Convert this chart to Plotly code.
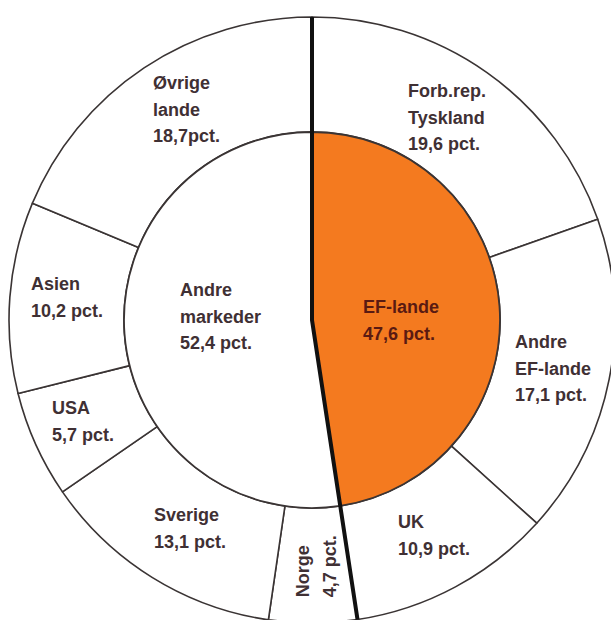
import math
import plotly.graph_objects as go

# ---- data ----
inner_labels = ["EF-lande", "Andre markeder"]
inner_values = [47.6, 52.4]
inner_names = ["EF-lande", "Andre<br>markeder"]

outer_labels = ["Forb.rep. Tyskland", "Andre EF-lande", "UK", "Norge",
                "Sverige", "USA", "Asien", "Øvrige lande"]
outer_values = [19.6, 17.1, 10.9, 4.7, 13.1, 5.7, 10.2, 18.7]
outer_names = ["Forb.rep.<br>Tyskland", "Andre<br>EF-lande", "UK", "Norge",
               "Sverige", "USA", "Asien", "Øvrige<br>lande"]

# ---- style / geometry ----
W, H = 620, 630             # slightly larger than the window; chart runs off the edge
CX, CY = 312, 320           # centre in pixels
R_OUT, R_IN = 303, 188
ORANGE = "#f47a1f"
LINE = "#3a3434"
TXT = "#3f3034"
TXT_EF = "#5a1a12"
FONT = "Liberation Sans, Arial, sans-serif"
outer_sep = [" ", " ", " ", " ", " ", " ", " ", ""]
outer_angle = [0, 0, 0, -90, 0, 0, 0, 0]
outer_nudge = [(-7, -2), (0, 0), (6, -1), (4, 1), (8, 0), (-5, 0), (0, -4), (11, -6)]
inner_nudge = [(-5, 8), (2, -11)]
inner_colors = [TXT_EF, TXT]


def fmt(v, sep=" "):
    return f"{v:.1f}".replace(".", ",") + sep + "pct."


def paper(px, py):
    return px / W, (H - py) / H


def label_html(text):
    lines = text.split("<br>")
    return "<br>".join(f'<span style="font-size:18px">{l}</span>' for l in lines)


fig = go.Figure()

fig.add_trace(go.Pie(
    labels=outer_labels, values=outer_values, sort=False, direction="clockwise",
    rotation=0, hole=R_IN / R_OUT, textinfo="none", hoverinfo="skip",
    marker=dict(colors=["white"] * len(outer_values), line=dict(color=LINE, width=1.6)),
    domain=dict(x=[(CX - R_OUT) / W, (CX + R_OUT) / W],
                y=[(H - CY - R_OUT) / H, (H - CY + R_OUT) / H]),
    showlegend=False,
))

fig.add_trace(go.Pie(
    labels=inner_labels, values=inner_values, sort=False, direction="clockwise",
    rotation=0, textinfo="none", hoverinfo="skip",
    marker=dict(colors=[ORANGE, "white"], line=dict(color=LINE, width=1.8)),
    domain=dict(x=[(CX - R_IN) / W, (CX + R_IN) / W],
                y=[(H - CY - R_IN) / H, (H - CY + R_IN) / H]),
    showlegend=False,
))

annotations = []
total = sum(outer_values)
cum = 0.0
r_mid = (R_IN + R_OUT) / 2
for i, v in enumerate(outer_values):
    a = math.radians(360 * (cum + v / 2) / total)
    cum += v
    px = CX + r_mid * math.sin(a)
    py = CY - r_mid * math.cos(a)
    x, y = paper(px, py)
    text = label_html(outer_names[i] + "<br>" + fmt(v, outer_sep[i]))
    annotations.append(dict(
        x=x, y=y, xref="paper", yref="paper", text=text, showarrow=False,
        align="left", xanchor="center", yanchor="middle", textangle=outer_angle[i],
        xshift=outer_nudge[i][0], yshift=-outer_nudge[i][1],
        font=dict(family=FONT, size=20.5, color=TXT, weight="bold"),
    ))

total_i = sum(inner_values)
cum = 0.0
for i, v in enumerate(inner_values):
    a = math.radians(360 * (cum + v / 2) / total_i)
    cum += v
    px = CX + 0.5 * R_IN * math.sin(a)
    py = CY - 0.5 * R_IN * math.cos(a)
    x, y = paper(px, py)
    text = label_html(inner_names[i] + "<br>" + fmt(v))
    annotations.append(dict(
        x=x, y=y, xref="paper", yref="paper", text=text, showarrow=False,
        align="left", xanchor="center", yanchor="middle",
        xshift=inner_nudge[i][0], yshift=-inner_nudge[i][1],
        font=dict(family=FONT, size=20.5, color=inner_colors[i], weight="bold"),
    ))

# thick divider between EF-lande and the other markets (from data angle)
theta = math.radians(360 * inner_values[0] / total_i)
x0, y0 = paper(CX, CY - R_OUT)
x1, y1 = paper(CX, CY)
x2, y2 = paper(CX + R_OUT * math.sin(theta), CY - R_OUT * math.cos(theta))
shapes = [dict(type="path", xref="paper", yref="paper",
               path=f"M {x0},{y0} L {x1},{y1} L {x2},{y2}",
               line=dict(color="#111111", width=4), layer="above")]

fig.update_layout(
    width=W, height=H, margin=dict(l=0, r=0, t=0, b=0),
    paper_bgcolor="white", plot_bgcolor="white",
    annotations=annotations, shapes=shapes, showlegend=False,
)

fig.write_html(
    "out.html", default_width=f"{W}px", default_height=f"{H}px",
    config={"displayModeBar": False},
    post_script="document.body.style.margin='0';"
                "document.documentElement.style.overflow='hidden';"
                "document.body.style.overflow='hidden';",
)
